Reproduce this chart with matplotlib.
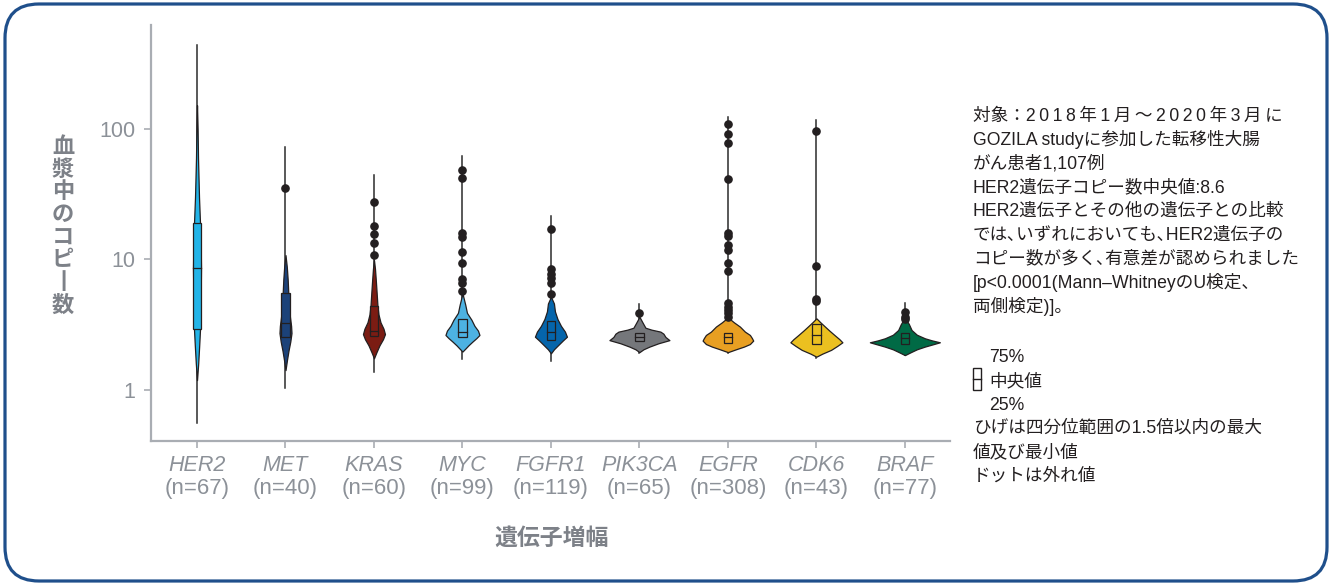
import matplotlib.pyplot as plt
import matplotlib.patches as patches
from matplotlib.transforms import blended_transform_factory

# data
genes = ['HER2', 'MET', 'KRAS', 'MYC', 'FGFR1', 'PIK3CA', 'EGFR', 'CDK6', 'BRAF']
n_counts = [67, 40, 60, 99, 119, 65, 308, 43, 77]
colors = ['#22b4e8', '#1c4279', '#7b1c13', '#4db2e2', '#0565ab',
          '#75777b', '#e89f22', '#ebc020', '#006a45']

# box: 25%, median, 75%
q1 = [2.92, 2.54, 2.59, 2.53, 2.41, 2.36, 2.31, 2.25, 2.24]
med = [8.6, 3.24, 2.85, 2.80, 2.78, 2.56, 2.56, 2.64, 2.49]
q3 = [19.1, 5.57, 4.4, 3.48, 3.38, 2.75, 2.75, 3.2, 2.72]

# vertical line extent
line_lo = [0.56, 1.03, 1.38, 1.72, 1.68, 1.91, 1.91, 1.75, 1.85]
line_hi = [440, 73, 44.5, 62, 21.5, 4.55, 123, 117, 4.61]

# outliers
outliers = [
    [],
    [35],
    [27.4, 18.2, 15.8, 13.3, 10.8],
    [48.5, 41.9, 15.9, 14.9, 11.5, 9.45, 7.05, 6.56, 5.74],
    [17.0, 8.4, 7.8, 7.15, 6.56, 5.44],
    [3.91],
    [109, 92, 78, 41.6, 15.9, 15.2, 12.8, 11.8, 9.46, 8.2, 4.66, 4.35, 4.10, 3.87, 3.64],
    [96.5, 8.97, 4.95, 4.8],
    [3.98, 3.64, 3.48],
]

# violin outline: values and density (half width)
viol_y = [
    [1.19, 1.6, 2.2, 2.9, 4.5, 8.6, 14, 19, 30, 60, 100, 152],
    [1.42, 1.7, 2.0, 2.35, 2.73, 3.1, 3.6, 4.3, 5.5, 7.0, 8.8, 10.8],
    [1.75, 1.95, 2.2, 2.45, 2.68, 2.95, 3.3, 3.8, 4.4, 5.5, 7.0, 8.5, 9.9],
    [1.97, 2.08, 2.2, 2.35, 2.5, 2.64, 2.85, 3.1, 3.45, 3.9, 4.5, 5.5],
    [1.91, 2.05, 2.2, 2.4, 2.56, 2.8, 3.1, 3.5, 4.0, 4.6, 5.18],
    [1.95, 2.05, 2.15, 2.28, 2.41, 2.55, 2.7, 2.8, 2.9, 3.0, 3.3, 3.64],
    [1.95, 2.05, 2.15, 2.25, 2.39, 2.5, 2.64, 2.8, 3.06, 3.3, 3.6],
    [1.8, 1.9, 2.03, 2.18, 2.32, 2.45, 2.64, 2.85, 3.09, 3.3, 3.54],
    [1.85, 1.95, 2.05, 2.15, 2.25, 2.32, 2.4, 2.49, 2.65, 2.88, 3.2, 3.6],
]
viol_d = [
    [0, 1.2, 2.2, 3.0, 3.6, 4.0, 3.6, 3.0, 2.0, 1.0, 0.6, 0],
    [0, 1.5, 3.0, 4.8, 6.0, 5.6, 4.5, 3.5, 2.8, 2.2, 1.3, 0],
    [0, 2.5, 5.5, 9, 11, 9.5, 6.5, 4.5, 3.5, 2.7, 1.8, 1.0, 0],
    [0, 3, 6, 10, 14, 17, 15.5, 12, 9, 4.5, 2.8, 0],
    [0, 3, 7, 12, 16, 14, 10, 6.5, 4, 3, 0],
    [0, 4, 10, 19, 30, 26, 24, 21, 12, 6, 3, 0],
    [0, 8, 16, 22, 25.3, 24, 22, 17, 12, 6, 0],
    [0, 6, 14.7, 21, 26, 23, 18, 13, 8, 4, 0],
    [0, 6, 12, 20, 29, 35, 27, 20, 12, 6.7, 4, 0],
]

note_lines = [
    '対象：2\u20090\u20091\u20098\u2009年\u20091\u2009月\u2009～\u20092\u20090\u20092\u20090\u2009年\u20093\u2009月\u2009に',
    'GOZILA studyに参加した転移性大腸',
    'がん患者1,107例',
    'HER2遺伝子コピー数中央値:8.6',
    'HER2遺伝子とその他の遺伝子との比較',
    'では､いずれにおいても､HER2遺伝子の',
    'コピー数が多く､有意差が認められました',
    '[p<0.0001(Mann–WhitneyのU検定、',
    '両側検定)]。',
]
legend_lines = ['ひげは四分位範囲の1.5倍以内の最大', '値及び最小値', 'ドットは外れ値']

plt.rcParams['font.family'] = ['Noto Sans CJK JP', 'DejaVu Sans']
note_font = ['Liberation Sans', 'Noto Sans CJK JP', 'DejaVu Sans']
note_size = 12.7
gray = '#8c9198'
dark = '#231f20'

fig = plt.figure(figsize=(13.33, 5.83), dpi=100)

# background axes in pixel units for frame and texts
bg = fig.add_axes([0, 0, 1, 1])
bg.set_xlim(0, 1333)
bg.set_ylim(583, 0)
bg.axis('off')
frame = patches.FancyBboxPatch((5, 4), 1322, 577, boxstyle='round,pad=0,rounding_size=34',
                               fill=False, edgecolor='#1f4f8b', linewidth=2.3)
bg.add_patch(frame)

ax = fig.add_axes([151 / 1333, 1 - 441 / 583, 799 / 1333, 416 / 583])
ax.set_yscale('log')
ax.set_ylim(0.4066, 626)
ax.set_xlim(-0.52, 8.51)

px = 1 / 88.5  # one pixel in x data units
box_w = 8.4 * px

for i in range(len(genes)):
    ax.plot([i, i], [line_lo[i], line_hi[i]], color='#2b2b2b', lw=1.1, zorder=1)
    left = [i - d * px for d in viol_d[i]]
    right = [i + d * px for d in viol_d[i]]
    ax.fill_betweenx(viol_y[i], left, right, facecolor=colors[i], edgecolor=dark,
                     linewidth=0.9, zorder=2)
    ax.add_patch(patches.Rectangle((i - box_w / 2, q1[i]), box_w, q3[i] - q1[i],
                                   facecolor=colors[i], edgecolor=dark, lw=0.9, zorder=3))
    ax.plot([i - box_w / 2, i + box_w / 2], [med[i], med[i]], color=dark, lw=0.9, zorder=4)
    if outliers[i]:
        ax.plot([i] * len(outliers[i]), outliers[i], 'o', color=dark, ms=5.2, zorder=5)

# axes styling
for s in ['top', 'right']:
    ax.spines[s].set_visible(False)
for s in ['left', 'bottom']:
    ax.spines[s].set_color('#a9adb3')
    ax.spines[s].set_linewidth(1.6)
ax.set_yticks([1, 10, 100])
ax.set_yticklabels(['1', '10', '100'])
ax.minorticks_off()
ax.tick_params(axis='both', colors='#a9adb3', length=5, width=1.2, labelcolor=gray)
ax.tick_params(axis='y', labelsize=15.5, pad=6)
for lab in ax.get_yticklabels():
    lab.set_family(['Liberation Sans', 'DejaVu Sans'])
ax.set_xticks(range(len(genes)))
ax.set_xticklabels(genes, fontsize=15.5, style='italic',
                   family=['Liberation Sans Narrow', 'Liberation Sans', 'DejaVu Sans'])
ax.tick_params(axis='x', pad=5)

trans = blended_transform_factory(ax.transData, ax.transAxes)
for i, n in enumerate(n_counts):
    ax.text(i, -0.113, f'(n={n})', transform=trans, ha='center', va='center',
            fontsize=16, color=gray,
            family=['Liberation Sans Narrow', 'Liberation Sans', 'DejaVu Sans'])

# axis titles
ylab = '血漿中のコピ丨数'
for k, ch in enumerate(ylab):
    bg.text(63, 146.7 + k * 22.6, ch, ha='center', va='center', fontsize=16,
            fontweight='bold', color='#7d8188')
bg.text(551, 538, '遺伝子増幅', ha='center', va='center', fontsize=16.5,
        fontweight='bold', color='#7d8188')

# notes on the right
for k, line in enumerate(note_lines):
    bg.text(973, 116 + k * 23.8, line, ha='left', va='center', fontsize=note_size,
            color=dark, family=note_font)

# legend box icon
bg.add_patch(patches.Rectangle((972.5, 368), 8, 22, fill=False, edgecolor=dark, lw=1.0))
bg.plot([972.5, 980.5], [379, 379], color=dark, lw=1.0)
bg.text(989, 358, '75%', ha='left', va='center', fontsize=note_size, color=dark, family=note_font)
bg.text(989, 381.5, '中央値', ha='left', va='center', fontsize=note_size, color=dark, family=note_font)
bg.text(989, 405, '25%', ha='left', va='center', fontsize=note_size, color=dark, family=note_font)
for k, line in enumerate(legend_lines):
    bg.text(973, 428.5 + k * 24, line, ha='left', va='center', fontsize=note_size,
            color=dark, family=note_font)

fig.savefig('out.png', dpi=100)
